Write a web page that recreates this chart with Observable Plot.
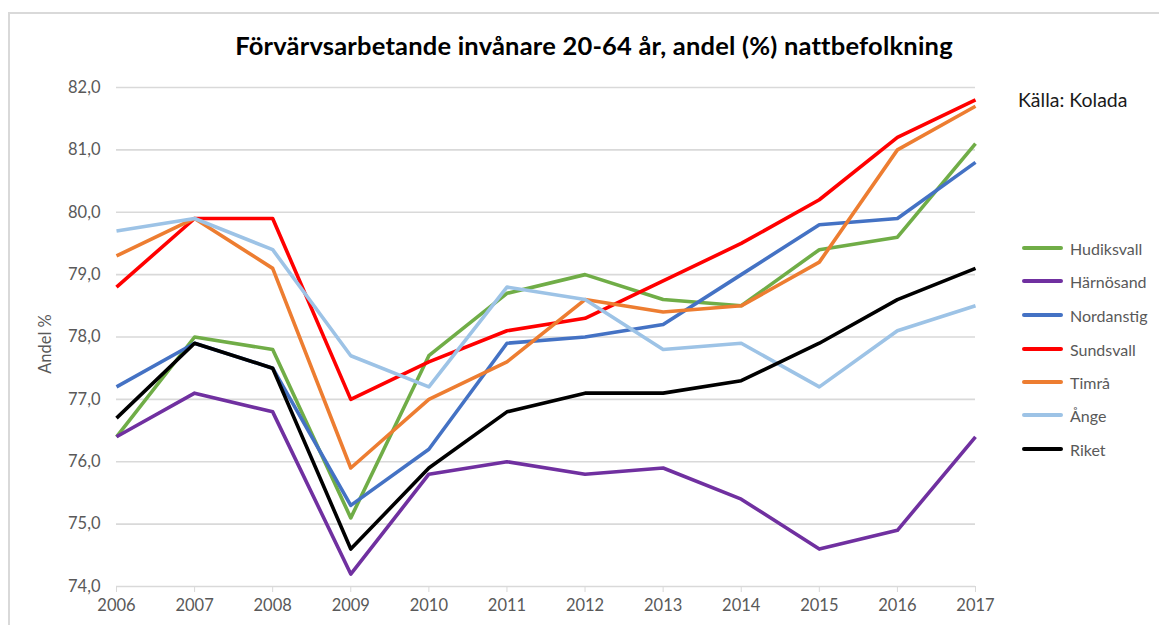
<!DOCTYPE html>
<html>
<head>
<meta charset="utf-8">
<script src="https://cdn.jsdelivr.net/npm/d3@7"></script>
<script src="https://cdn.jsdelivr.net/npm/@observablehq/plot@0.6"></script>
<style>
  html, body { margin: 0; padding: 0; background: #fff; }
  #wrap { position: relative; width: 1159px; height: 625px; overflow: hidden; font-family: Lato, "Open Sans", sans-serif; }
  #frame { position: absolute; left: 8px; top: 12px; width: 1160px; height: 640px; border: 2px solid #d9d9d9; box-sizing: border-box; }
  #chart { position: absolute; left: 0; top: 0; }
  #title { position: absolute; left: 0; width: 1188px; top: 30px; text-align: center; font-weight: 700; font-size: 25.5px; letter-spacing: 0.2px; color: #000; white-space: nowrap; }
  #source { position: absolute; left: 1018px; top: 88px; font-size: 19.5px; color: #1a1a1a; white-space: nowrap; }
  #ylabel { position: absolute; left: 45px; top: 344px; transform: translate(-50%, -50%) rotate(-90deg); font-size: 16.5px; color: #595959; white-space: nowrap; }
  .leg { position: absolute; left: 1022px; height: 20px; display: flex; align-items: center; transform: translateY(-50%); font-size: 16px; color: #595959; white-space: nowrap; }
  .leg .sw { width: 41px; height: 4px; border-radius: 2px; margin-right: 7px; }
</style>
</head>
<body>
<div id="wrap">
  <div id="frame"></div>
  <div id="chart"></div>
  <div id="title"></div>
  <div id="source"></div>
  <div id="ylabel"></div>
</div>
<script>
const titleText = "Förvärvsarbetande invånare 20-64 år, andel (%) nattbefolkning";
const sourceText = "Källa: Kolada";
const yLabelText = "Andel %";

const years = [2006, 2007, 2008, 2009, 2010, 2011, 2012, 2013, 2014, 2015, 2016, 2017];
const seriesNames = ["Hudiksvall", "Härnösand", "Nordanstig", "Sundsvall", "Timrå", "Ånge", "Riket"];
const seriesColors = ["#70ad47", "#7030a0", "#4472c4", "#ff0000", "#ed7d31", "#9dc3e6", "#000000"];

const hudiksvall = [76.4, 78.0, 77.8, 75.1, 77.7, 78.7, 79.0, 78.6, 78.5, 79.4, 79.6, 81.1];
const harnosand  = [76.4, 77.1, 76.8, 74.2, 75.8, 76.0, 75.8, 75.9, 75.4, 74.6, 74.9, 76.4];
const nordanstig = [77.2, 77.9, 77.5, 75.3, 76.2, 77.9, 78.0, 78.2, 79.0, 79.8, 79.9, 80.8];
const sundsvall  = [78.8, 79.9, 79.9, 77.0, 77.6, 78.1, 78.3, 78.9, 79.5, 80.2, 81.2, 81.8];
const timra      = [79.3, 79.9, 79.1, 75.9, 77.0, 77.6, 78.6, 78.4, 78.5, 79.2, 81.0, 81.7];
const ange       = [79.7, 79.9, 79.4, 77.7, 77.2, 78.8, 78.6, 77.8, 77.9, 77.2, 78.1, 78.5];
const riket      = [76.7, 77.9, 77.5, 74.6, 75.9, 76.8, 77.1, 77.1, 77.3, 77.9, 78.6, 79.1];

const yTicks = [74, 75, 76, 77, 78, 79, 80, 81, 82];
const gridTicks = [75, 76, 77, 78, 79, 80, 81, 82];

const seriesValues = [hudiksvall, harnosand, nordanstig, sundsvall, timra, ange, riket];
const rows = seriesNames.flatMap((name, i) =>
  years.map((yr, j) => ({ series: name, year: yr, value: seriesValues[i][j] })));

const fmt = d => d.toFixed(1).replace(".", ",");

const chart = Plot.plot({
  width: 1159,
  height: 625,
  marginLeft: 116,
  marginRight: 184,
  marginTop: 87,
  marginBottom: 39,
  style: { fontFamily: "Lato, 'Open Sans', sans-serif", fontSize: "15px", color: "#595959", background: "transparent" },
  x: { domain: [2006, 2017], ticks: years, tickFormat: d => String(d) },
  y: { domain: [74, 82] },
  color: { domain: seriesNames, range: seriesColors },
  marks: [
    Plot.ruleY(gridTicks, { stroke: "#d9d9d9", strokeWidth: 1.6 }),
    Plot.ruleY([74], { stroke: "#d9d9d9", strokeWidth: 1.6 }),
    Plot.axisX({ ticks: years, tickFormat: d => String(d), tickSize: 6, stroke: "#d9d9d9", tickPadding: 7, fontSize: 16.5, fill: "#595959", label: null }),
    Plot.axisY({ ticks: yTicks, tickFormat: fmt, tickSize: 0, tickPadding: 16, fontSize: 16.5, fill: "#595959", label: null }),
    Plot.line(rows, { x: "year", y: "value", z: "series", stroke: "series", strokeWidth: 3.6, strokeLinejoin: "round", strokeLinecap: "butt" })
  ]
});
document.getElementById("chart").appendChild(chart);

document.getElementById("title").textContent = titleText;
document.getElementById("source").textContent = sourceText;
document.getElementById("ylabel").textContent = yLabelText;

const legendY = [248, 281, 315, 349, 382, 415, 449];
const wrap = document.getElementById("wrap");
seriesNames.forEach((name, i) => {
  const d = document.createElement("div");
  d.className = "leg";
  d.style.top = legendY[i] + "px";
  const sw = document.createElement("span");
  sw.className = "sw";
  sw.style.background = seriesColors[i];
  const t = document.createElement("span");
  t.textContent = name;
  d.appendChild(sw);
  d.appendChild(t);
  wrap.appendChild(d);
});
</script>
</body>
</html>
